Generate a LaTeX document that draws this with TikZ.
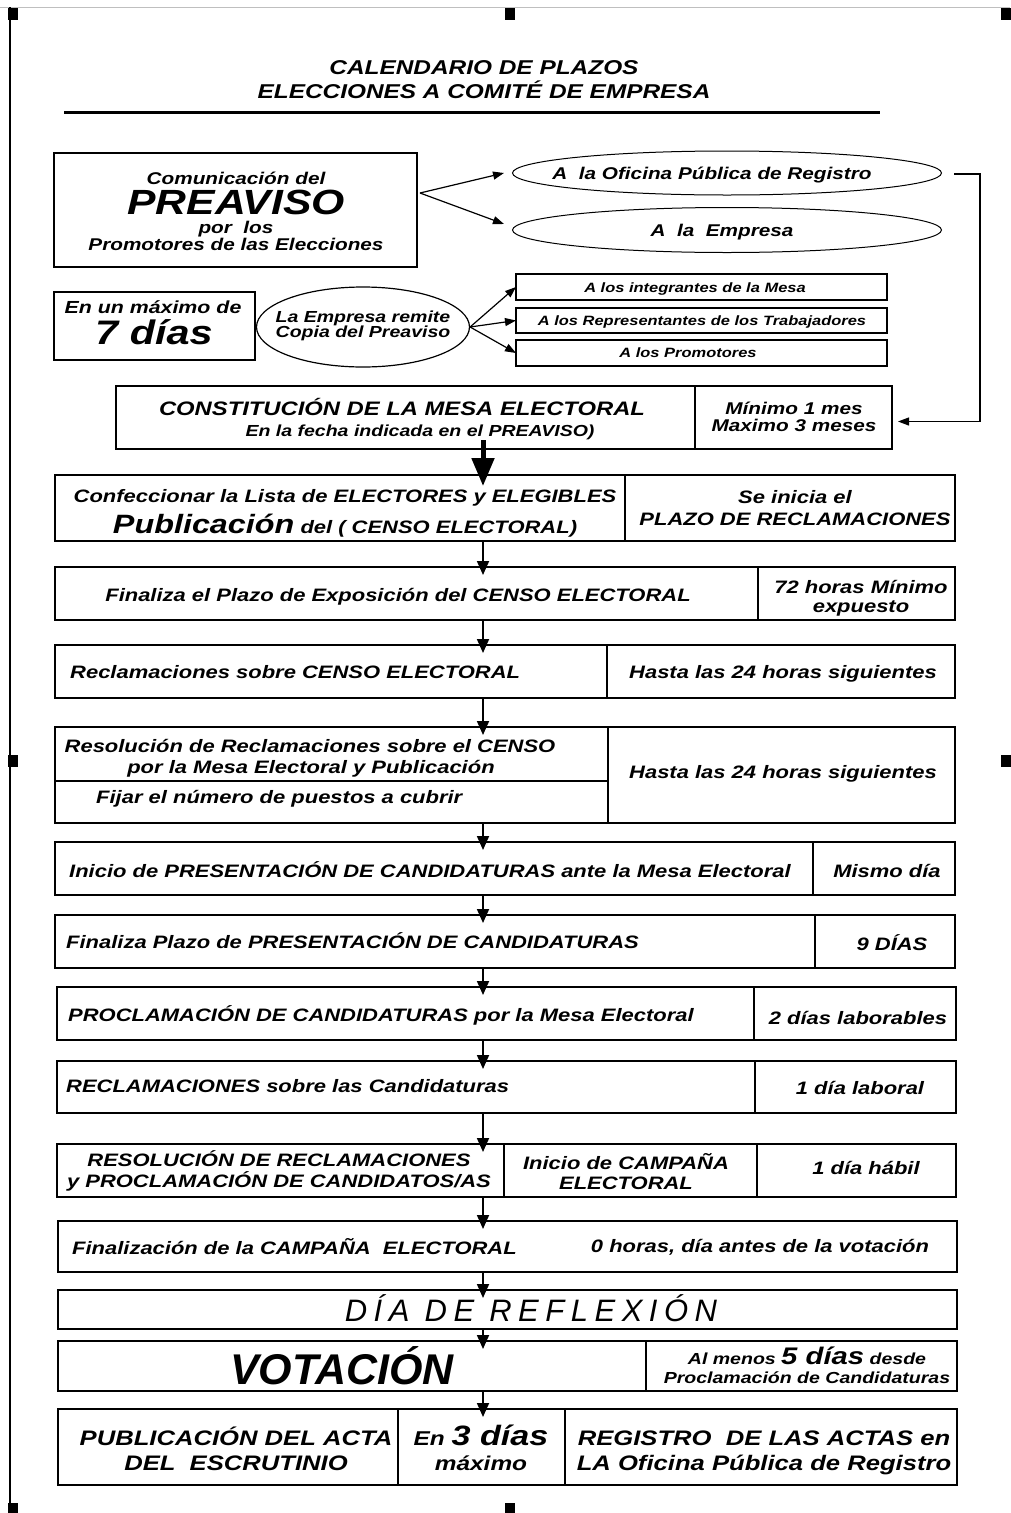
\documentclass[tikz,border=0pt]{standalone}
\usepackage{fontspec}
\setmainfont{Liberation Sans}[FakeStretch=1.22]
\newfontfamily\narrowsf{Liberation Sans}
\usetikzlibrary{positioning,shapes.geometric,arrows.meta}
\newcommand{\ftx}[1]{\fontsize{#1}{#1}\selectfont\bfseries\itshape}

\begin{document}
\begin{tikzpicture}[x=1pt,y=-1pt,
  box/.style={draw,line width=2pt,inner sep=0pt,outer sep=0pt,anchor=north west},
  oval/.style={draw,ellipse,line width=1pt,inner sep=0pt},
  lbl/.style={inner sep=0pt,anchor=base,font=\ftx{18}},
  lbll/.style={lbl,anchor=base west},
  flow/.style={-{Triangle[length=14pt,width=12pt]},line width=1.8pt},
  side/.style={-{Triangle[length=11pt,width=8pt]},line width=1.2pt}
]
\useasboundingbox (0,0) rectangle (1010,1513);
% edge of the scanned page
\draw[gray!50,line width=1pt] (0,7) -- (1010,7);
\draw[line width=2.5pt] (10,7) -- (10,1513);
\foreach \mx/\my in {8/8,505/8,1001/8,8/755,1001/755,8/1503,505/1503}
  \fill (\mx,\my) rectangle ++(10,12);

% title
\node[lbl,font=\ftx{20}] (tit1) at (484,74) {CALENDARIO DE PLAZOS};
\node[lbl,font=\ftx{20}] (tit2) at (484,98) {ELECCIONES A COMITÉ DE EMPRESA};
\draw[line width=3pt] (64,112) -- (880,112);

% preaviso
\node[box,minimum width=363pt,minimum height=114pt] (preaviso) at (54,153) {};
\node[lbl,font=\ftx{17}] (pre1) at (236,184) {Comunicación del};
\node[lbl,font=\ftx{35}] (pre2) at (236,214) {PREAVISO};
\node[lbl,font=\ftx{17}] (pre3) at (236,233) {por~~los};
\node[lbl,font=\ftx{17}] (pre4) at (236,250) {Promotores de las Elecciones};

\node[oval,minimum width=429pt,minimum height=44pt] (oficina) at (727,173) {};
\node[lbl,font=\ftx{17}] (ofi) at (712,179) {A~~la Oficina Pública de Registro};
\node[oval,minimum width=429pt,minimum height=45pt] (empresa) at (727,230) {};
\node[lbl,font=\ftx{17}] (emp) at (722,236) {A~~la~~Empresa};

\coordinate (split) at (420,193);
\draw[side] (split) -- ([xshift=-8pt]oficina.west);
\draw[side] (split) -- ([xshift=-8pt,yshift=6pt]empresa.west);

% plazo de 7 dias
\node[box,minimum width=201pt,minimum height=68pt] (plazo) at (54,292) {};
\node[lbl,font=\ftx{17.5}] (pl1) at (153,313) {En un máximo de};
\node[lbl,font=\ftx{34}] (pl2) at (154,344) {7 días};

\node[oval,line width=1.2pt,minimum width=213pt,minimum height=80pt] (remite) at (363,327) {};
\node[lbl,font=\ftx{16}] (rem1) at (363,322) {La Empresa remite};
\node[lbl,font=\ftx{16}] (rem2) at (363,337) {Copia del Preaviso};

\node[box,line width=1.3pt,minimum width=371pt,minimum height=26pt] (dest1) at (516,274) {};
\node[box,line width=1.3pt,minimum width=371pt,minimum height=25pt] (dest2) at (516,308) {};
\node[box,line width=1.3pt,minimum width=371pt,minimum height=26pt] (dest3) at (516,340) {};
\node[lbl,font=\ftx{13.5}] (d1) at (695,292) {A los integrantes de la Mesa};
\node[lbl,font=\ftx{13.5}] (d2) at (702,325) {A los Representantes de los Trabajadores};
\node[lbl,font=\ftx{13.5}] (d3) at (688,357) {A los Promotores};
\draw[side] (remite.east) -- (dest1.west);
\draw[side] (remite.east) -- (dest2.west);
\draw[side] (remite.east) -- (dest3.west);

% constitucion de la mesa
\node[box,minimum width=579pt,minimum height=63pt] (mesa) at (116,386) {};
\node[box,minimum width=197pt,minimum height=63pt] (mesaplazo) at (695,386) {};
\node[lbl,font=\ftx{19.5}] (mesa1) at (402,415) {CONSTITUCIÓN DE LA MESA ELECTORAL};
\node[lbl,font=\ftx{16}] (mesa2) at (420,436) {En la fecha indicada en el PREAVISO)};
\node[lbl,font=\ftx{17}] (mp1) at (794,414) {Mínimo 1 mes};
\node[lbl,font=\ftx{17}] (mp2) at (794,431) {Maximo 3 meses};

\coordinate (ret) at (980,174);
\draw[side] ([xshift=12pt,yshift=-1pt]oficina.east) -- (ret) |- ([xshift=6pt,yshift=-4pt]mesaplazo.east);

% filas del calendario
\node[box,minimum width=570pt,minimum height=66pt] (c1a) at (55,475) {};
\node[box,minimum width=330pt,minimum height=66pt] (c1b) at (625,475) {};
\node[lbl] (t1a) at (345,502) {Confeccionar la Lista de ELECTORES y ELEGIBLES};
\node[lbl] (t1b) at (345,533) {{\ftx{26.5}Publicación} del ( CENSO ELECTORAL)};
\node[lbl] (t1c) at (795,503) {Se inicia el};
\node[lbl] (t1d) at (795,525) {PLAZO DE RECLAMACIONES};

\node[box,minimum width=703pt,minimum height=53pt] (c2a) at (55,567) {};
\node[box,minimum width=197pt,minimum height=53pt] (c2b) at (758,567) {};
\node[lbl] (t2a) at (398,601) {Finaliza el Plazo de Exposición del CENSO ELECTORAL};
\node[lbl] (t2b) at (861,593) {72 horas Mínimo};
\node[lbl] (t2c) at (861,612) {expuesto};

\node[box,minimum width=552pt,minimum height=53pt] (c3a) at (55,645) {};
\node[box,minimum width=348pt,minimum height=53pt] (c3b) at (607,645) {};
\node[lbll] (t3a) at (70,678) {Reclamaciones sobre CENSO ELECTORAL};
\node[lbl] (t3b) at (783,678) {Hasta las 24 horas siguientes};

\node[box,minimum width=553pt,minimum height=54pt] (c4a) at (55,727) {};
\node[box,minimum width=553pt,minimum height=42pt] (c4b) at (55,781) {};
\node[box,minimum width=347pt,minimum height=96pt] (c4c) at (608,727) {};
\node[lbl] (t4a) at (310,752) {Resolución de Reclamaciones sobre el CENSO};
\node[lbl] (t4b) at (311,773) {por la Mesa Electoral y Publicación};
\node[lbll] (t4c) at (96,803) {Fijar el número de puestos a cubrir};
\node[lbl] (t4d) at (783,778) {Hasta las 24 horas siguientes};

\node[box,minimum width=758pt,minimum height=53pt] (c5a) at (55,842) {};
\node[box,minimum width=142pt,minimum height=53pt] (c5b) at (813,842) {};
\node[lbl] (t5a) at (430,877) {Inicio de PRESENTACIÓN DE CANDIDATURAS ante la Mesa Electoral};
\node[lbl] (t5b) at (887,877) {Mismo día};

\node[box,minimum width=760pt,minimum height=53pt] (c6a) at (55,915) {};
\node[box,minimum width=140pt,minimum height=53pt] (c6b) at (815,915) {};
\node[lbll] (t6a) at (66,948) {Finaliza Plazo de PRESENTACIÓN DE CANDIDATURAS};
\node[lbl] (t6b) at (892,950) {9 DÍAS};

\node[box,minimum width=697pt,minimum height=53pt] (c7a) at (57,987) {};
\node[box,minimum width=202pt,minimum height=53pt] (c7b) at (754,987) {};
\node[lbll] (t7a) at (68,1021) {PROCLAMACIÓN DE CANDIDATURAS por la Mesa Electoral};
\node[lbl] (t7b) at (858,1024) {2 días laborables};

\node[box,minimum width=698pt,minimum height=52pt] (c8a) at (57,1061) {};
\node[box,minimum width=201pt,minimum height=52pt] (c8b) at (755,1061) {};
\node[lbll] (t8a) at (66,1092) {RECLAMACIONES sobre las Candidaturas};
\node[lbl] (t8b) at (860,1094) {1 día laboral};

\node[box,minimum width=447pt,minimum height=53pt] (c9a) at (57,1144) {};
\node[box,minimum width=253pt,minimum height=53pt] (c9b) at (504,1144) {};
\node[box,minimum width=199pt,minimum height=53pt] (c9c) at (757,1144) {};
\node[lbl] (t9a) at (279,1166) {RESOLUCIÓN DE RECLAMACIONES};
\node[lbl] (t9b) at (279,1187) {y PROCLAMACIÓN DE CANDIDATOS/AS};
\node[lbl] (t9c) at (626,1169) {Inicio de CAMPAÑA};
\node[lbl] (t9d) at (626,1189) {ELECTORAL};
\node[lbl] (t9e) at (866,1174) {1 día hábil};

\node[box,minimum width=899pt,minimum height=51pt] (c10) at (58,1221) {};
\node[lbll] (t10a) at (72,1254) {Finalización de la CAMPAÑA~~ELECTORAL};
\node[lbl] (t10b) at (760,1252) {0 horas, día antes de la votación};

\node[box,minimum width=899pt,minimum height=39pt] (c11) at (58,1290) {};
\node[lbl,font=\narrowsf\fontsize{31}{31}\selectfont\mdseries\itshape\addfontfeature{LetterSpace=21}] (t11) at (531,1321) {DÍA DE REFLEXIÓN};

\node[box,minimum width=588pt,minimum height=50pt] (c12a) at (58,1341) {};
\node[box,minimum width=311pt,minimum height=50pt] (c12b) at (646,1341) {};
\node[lbl,font=\narrowsf\fontsize{43}{43}\selectfont\bfseries\itshape] (t12a) at (342,1384) {VOTACIÓN};
\node[lbl,font=\ftx{16}] (t12b) at (807,1364) {Al menos {\ftx{24}5 días} desde};
\node[lbl,font=\ftx{16}] (t12c) at (807,1383) {Proclamación de Candidaturas};

\node[box,minimum width=340pt,minimum height=76pt] (c13a) at (58,1409) {};
\node[box,minimum width=167pt,minimum height=76pt] (c13b) at (398,1409) {};
\node[box,minimum width=392pt,minimum height=76pt] (c13c) at (565,1409) {};
\node[lbl,font=\ftx{21}] (t13a) at (236,1445) {PUBLICACIÓN DEL ACTA};
\node[lbl,font=\ftx{21}] (t13b) at (236,1470) {DEL~~ESCRUTINIO};
\node[lbl,font=\ftx{20}] (t13c) at (481,1445) {En {\ftx{28}3 días}};
\node[lbl,font=\ftx{20}] (t13d) at (481,1470) {máximo};
\node[lbl,font=\ftx{21}] (t13e) at (764,1445) {REGISTRO~~DE LAS ACTAS en};
\node[lbl,font=\ftx{21}] (t13f) at (764,1470) {LA Oficina Pública de Registro};

% flechas
\coordinate (axis) at (483,0);
\draw[-{Triangle[length=28pt,width=22pt]},line width=5pt] ([yshift=9pt]mesa.south -| axis) -- ([yshift=-11pt]c1a.north -| axis);
\foreach \a/\b in {c1a/c2a,c2a/c3a,c3a/c4a,c4b/c5a,c5a/c6a,c6a/c7a,c7a/c8a,c8a/c9a,c9a/c10,c10/c11,c11/c12a,c12a/c13b}
  \draw[flow] (\a.south -| axis) -- ([yshift=-8pt]\b.north -| axis);
\end{tikzpicture}
\end{document}
